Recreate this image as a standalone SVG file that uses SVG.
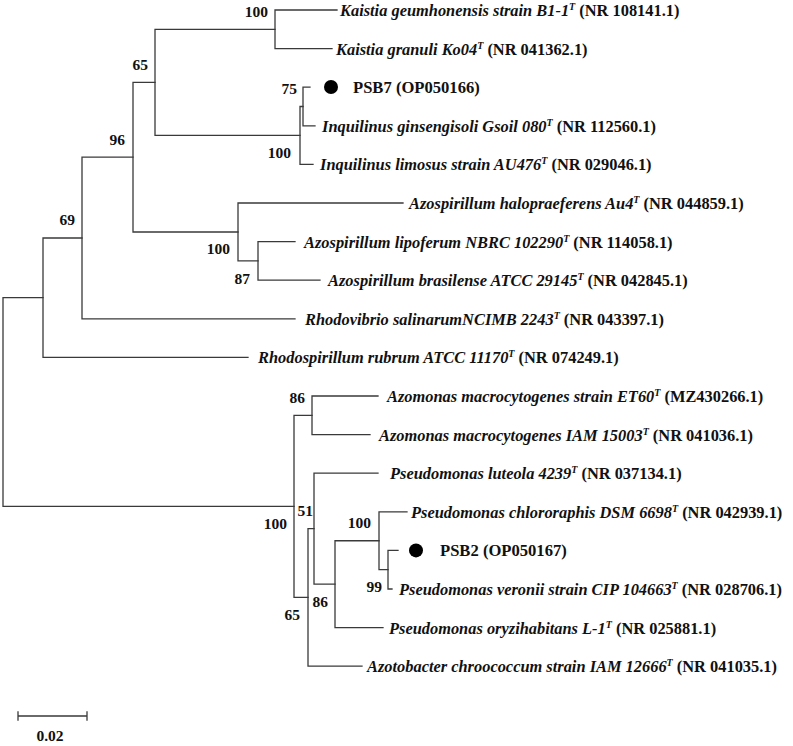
<svg xmlns="http://www.w3.org/2000/svg" width="793" height="746" viewBox="0 0 793 746">
<style>
.br{fill:none;stroke:#3a3a3a;stroke-width:1.3;stroke-linecap:square}
.lf{font-family:"Liberation Serif","Times New Roman",serif;font-size:16.4px;font-weight:bold;font-style:italic;fill:#111}
.acc{font-style:normal}
.sup{font-size:10px}
.bs{font-family:"Liberation Serif","Times New Roman",serif;font-size:15.5px;font-weight:bold;fill:#111;text-anchor:end}
.psb{font-family:"Liberation Serif","Times New Roman",serif;font-size:16.6px;font-weight:bold;fill:#111}
.dot{fill:#000}
</style>
<rect width="793" height="746" fill="#fff"/>
<g id="connectors" class="br">
<path d="M3 297.7V506.4M3 297.7H43M3 506.4H294"/>
<path d="M43 238V357.4M43 238H82M43 357.4H248"/>
<path d="M82 157.2V318.8M82 157.2H133M82 318.8H295"/>
<path d="M133 82.4V232M133 82.4H155M133 232H238"/>
<path d="M155 29.3V135.45M155 29.3H275M155 135.45H300"/>
<path d="M275 10V48.6M275 10H337M275 48.6H332"/>
<path d="M300 106.5V164.4M300 106.5H303M300 164.4H313"/>
<path d="M303 87.2V125.8M303 87.2H310M303 125.8H315"/>
<path d="M238 203V260.9M238 203H403M238 260.9H258"/>
<path d="M258 241.6V280.2M258 241.6H295M258 280.2H320"/>
<path d="M294 415.3V597.45M294 415.3H312M294 597.45H308"/>
<path d="M312 396V434.6M312 396H378M312 434.6H370"/>
<path d="M308 528.7V666.2M308 528.7H314M308 666.2H362"/>
<path d="M314 473.2V584.2M314 473.2H378M314 584.2H335"/>
<path d="M335 540.75V627.6M335 540.75H379M335 627.6H383"/>
<path d="M379 511.8V569.7M379 511.8H407M379 569.7H388"/>
<path d="M388 550.4V589M388 550.4H398M388 589H392"/>
</g>
<g id="bootstrap">
<text class="bs" x="268" y="17">100</text>
<text class="bs" x="148" y="70">65</text>
<text class="bs" x="297" y="94">75</text>
<text class="bs" x="291" y="158">100</text>
<text class="bs" x="125" y="145">96</text>
<text class="bs" x="75" y="225">69</text>
<text class="bs" x="230" y="254">100</text>
<text class="bs" x="250" y="284">87</text>
<text class="bs" x="305" y="403">86</text>
<text class="bs" x="287" y="529">100</text>
<text class="bs" x="313" y="516">51</text>
<text class="bs" x="371" y="528">100</text>
<text class="bs" x="382" y="592">99</text>
<text class="bs" x="328" y="607">86</text>
<text class="bs" x="300" y="620">65</text>
</g>
<g id="leaf1"><text class="lf" x="340" y="16">Kaistia geumhonensis strain B1-1<tspan class="sup" dy="-6">T</tspan><tspan class="acc" dy="6"> (NR 108141.1)</tspan></text></g>
<g id="leaf2"><text class="lf" x="336" y="54.6">Kaistia granuli Ko04<tspan class="sup" dy="-6">T</tspan><tspan class="acc" dy="6"> (NR 041362.1)</tspan></text></g>
<g id="leaf3"><circle class="dot" cx="331" cy="87" r="7"/><text class="psb" x="353" y="93.2">PSB7 (OP050166)</text></g>
<g id="leaf4"><text class="lf" x="322" y="131.8">Inquilinus ginsengisoli Gsoil 080<tspan class="sup" dy="-6">T</tspan><tspan class="acc" dy="6"> (NR 112560.1)</tspan></text></g>
<g id="leaf5"><text class="lf" x="320" y="170.4">Inquilinus limosus strain AU476<tspan class="sup" dy="-6">T</tspan><tspan class="acc" dy="6"> (NR 029046.1)</tspan></text></g>
<g id="leaf6"><text class="lf" x="409" y="209">Azospirillum halopraeferens Au4<tspan class="sup" dy="-6">T</tspan><tspan class="acc" dy="6"> (NR 044859.1)</tspan></text></g>
<g id="leaf7"><text class="lf" x="304" y="247.6">Azospirillum lipoferum NBRC 102290<tspan class="sup" dy="-6">T</tspan><tspan class="acc" dy="6"> (NR 114058.1)</tspan></text></g>
<g id="leaf8"><text class="lf" x="328" y="286.2">Azospirillum brasilense ATCC 29145<tspan class="sup" dy="-6">T</tspan><tspan class="acc" dy="6"> (NR 042845.1)</tspan></text></g>
<g id="leaf9"><text class="lf" x="305" y="324.8">Rhodovibrio salinarumNCIMB 2243<tspan class="sup" dy="-6">T</tspan><tspan class="acc" dy="6"> (NR 043397.1)</tspan></text></g>
<g id="leaf10"><text class="lf" x="258" y="363.4">Rhodospirillum rubrum ATCC 11170<tspan class="sup" dy="-6">T</tspan><tspan class="acc" dy="6"> (NR 074249.1)</tspan></text></g>
<g id="leaf11"><text class="lf" x="387" y="402">Azomonas macrocytogenes strain ET60<tspan class="sup" dy="-6">T</tspan><tspan class="acc" dy="6"> (MZ430266.1)</tspan></text></g>
<g id="leaf12"><text class="lf" x="379" y="440.6">Azomonas macrocytogenes IAM 15003<tspan class="sup" dy="-6">T</tspan><tspan class="acc" dy="6"> (NR 041036.1)</tspan></text></g>
<g id="leaf13"><text class="lf" x="390" y="479.2">Pseudomonas luteola 4239<tspan class="sup" dy="-6">T</tspan><tspan class="acc" dy="6"> (NR 037134.1)</tspan></text></g>
<g id="leaf14"><text class="lf" x="411" y="517.8">Pseudomonas chlororaphis DSM 6698<tspan class="sup" dy="-6">T</tspan><tspan class="acc" dy="6"> (NR 042939.1)</tspan></text></g>
<g id="leaf15"><circle class="dot" cx="416" cy="550.4" r="7"/><text class="psb" x="440" y="556.4">PSB2 (OP050167)</text></g>
<g id="leaf16"><text class="lf" x="399" y="595">Pseudomonas veronii strain CIP 104663<tspan class="sup" dy="-6">T</tspan><tspan class="acc" dy="6"> (NR 028706.1)</tspan></text></g>
<g id="leaf17"><text class="lf" x="389" y="633.6">Pseudomonas oryzihabitans L-1<tspan class="sup" dy="-6">T</tspan><tspan class="acc" dy="6"> (NR 025881.1)</tspan></text></g>
<g id="leaf18"><text class="lf" x="367" y="672.2">Azotobacter chroococcum strain IAM 12666<tspan class="sup" dy="-6">T</tspan><tspan class="acc" dy="6"> (NR 041035.1)</tspan></text></g>
<g id="scalebar">
<path class="br" d="M18 716H87M18 712V720M87 712V720"/>
<text class="bs" x="50" y="741" style="text-anchor:middle">0.02</text>
</g>
</svg>
